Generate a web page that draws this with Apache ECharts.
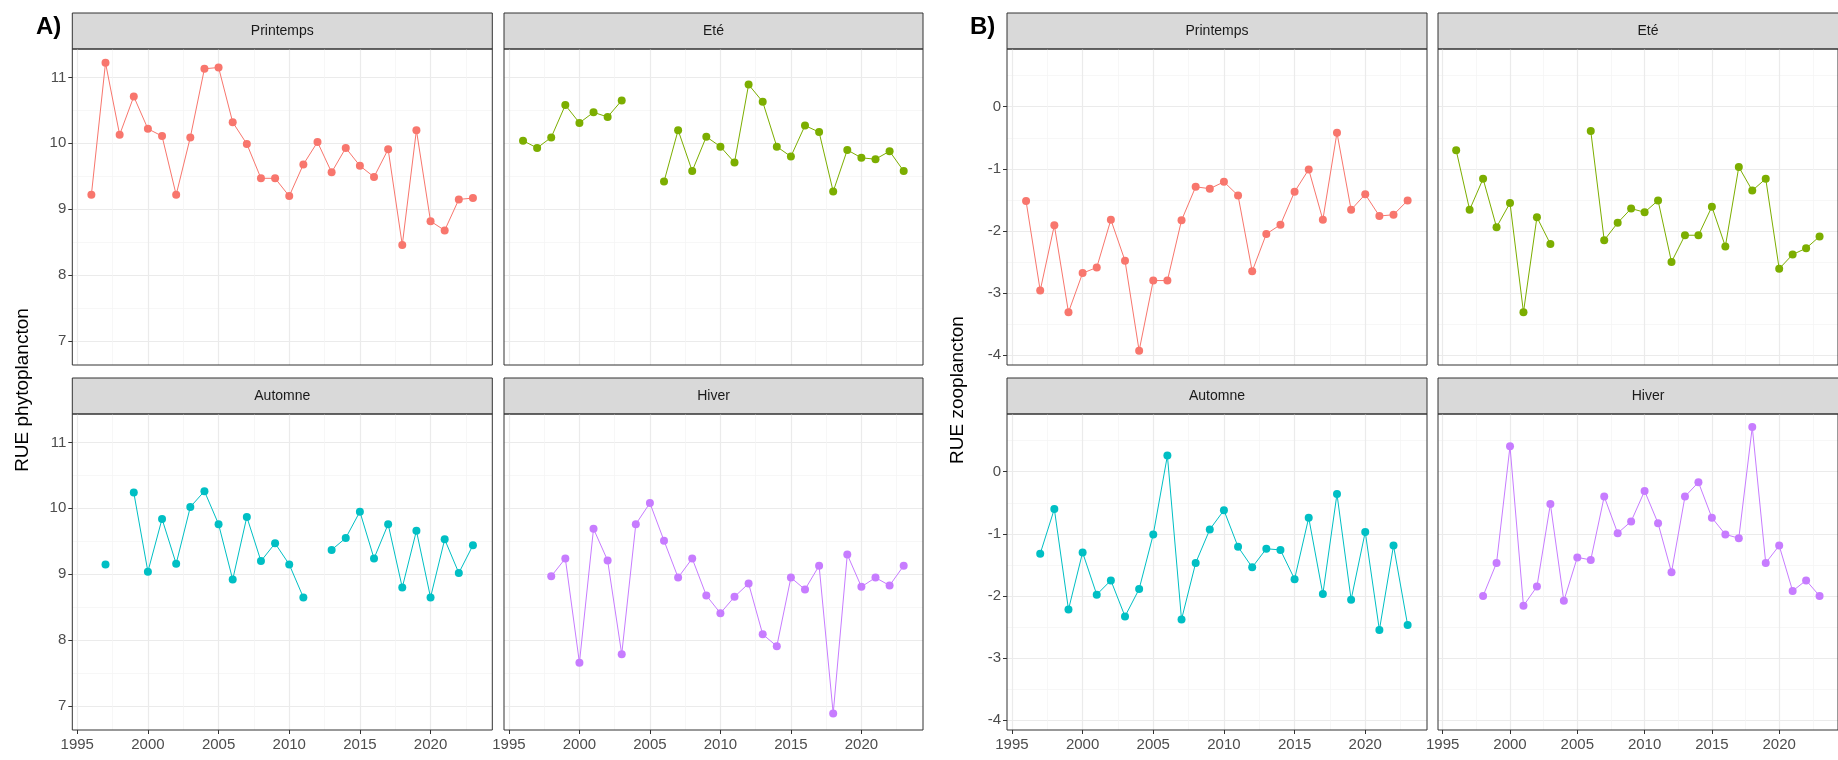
<!DOCTYPE html>
<html><head><meta charset="utf-8">
<script src="https://cdn.jsdelivr.net/npm/echarts@6/dist/echarts.min.js"></script>
<style>html,body{margin:0;padding:0;background:#fff}#c{width:1838px;height:760px}</style>
</head><body><div id="c"></div>
<script>
const years = [1996,1997,1998,1999,2000,2001,2002,2003,2004,2005,2006,2007,2008,2009,2010,2011,2012,2013,2014,2015,2016,2017,2018,2019,2020,2021,2022,2023];
const seasons = ['Printemps','Eté','Automne','Hiver'];
const xTicks = [1995,2000,2005,2010,2015,2020];
const xMinor = [1997.5,2002.5,2007.5,2012.5,2017.5,2022.5];
const phytoTicks = [7,8,9,10,11];
const phytoMinor = [7.5,8.5,9.5,10.5];
const zooTicks = [-4,-3,-2,-1,0];
const zooMinor = [-3.5,-2.5,-1.5,-0.5,0.5];

const phytoPrintemps = [9.22,11.22,10.13,10.71,10.22,10.11,9.22,10.09,11.13,11.15,10.32,9.99,9.47,9.47,9.20,9.68,10.02,9.56,9.93,9.66,9.49,9.91,8.46,10.20,8.82,8.68,9.15,9.17];
const phytoEte = [10.04,9.93,10.09,10.58,10.31,10.47,10.40,10.65,null,null,9.42,10.20,9.58,10.10,9.95,9.71,10.89,10.63,9.95,9.80,10.27,10.17,9.27,9.90,9.78,9.76,9.88,9.58];
const phytoAutomne = [null,9.15,null,10.24,9.04,9.84,9.16,10.02,10.26,9.76,8.92,9.87,9.20,9.47,9.15,8.65,null,9.37,9.55,9.95,9.24,9.76,8.80,9.66,8.65,9.53,9.02,9.44];
const phytoHiver = [null,null,8.97,9.24,7.66,9.69,9.21,7.79,9.76,10.08,9.51,8.95,9.24,8.68,8.41,8.66,8.86,8.09,7.91,8.95,8.77,9.13,6.89,9.30,8.81,8.95,8.83,9.13];
const zooPrintemps = [-1.52,-2.96,-1.91,-3.31,-2.68,-2.59,-1.82,-2.48,-3.93,-2.80,-2.80,-1.83,-1.29,-1.32,-1.21,-1.43,-2.65,-2.05,-1.90,-1.37,-1.01,-1.82,-0.42,-1.66,-1.41,-1.76,-1.74,-1.51];
const zooEte = [-0.70,-1.66,-1.16,-1.94,-1.55,-3.31,-1.78,-2.21,null,null,-0.39,-2.15,-1.87,-1.64,-1.70,-1.51,-2.50,-2.07,-2.07,-1.61,-2.25,-0.97,-1.35,-1.16,-2.61,-2.38,-2.28,-2.09];
const zooAutomne = [null,-1.32,-0.60,-2.22,-1.30,-1.98,-1.75,-2.33,-1.89,-1.01,0.26,-2.38,-1.47,-0.93,-0.62,-1.21,-1.54,-1.24,-1.26,-1.73,-0.74,-1.97,-0.36,-2.06,-0.97,-2.55,-1.19,-2.47];
const zooHiver = [null,null,-2.00,-1.47,0.41,-2.16,-1.85,-0.52,-2.08,-1.38,-1.42,-0.40,-0.99,-0.80,-0.31,-0.83,-1.62,-0.40,-0.17,-0.74,-1.01,-1.07,0.72,-1.47,-1.19,-1.92,-1.75,-2.00];

const colors = ['#F8766D','#7CAE00','#00BFC4','#C77CFF'];
const FONT = 'Liberation Sans, Arial, sans-serif';
const facets = [
  {left:72.3, top:49, w:420, s:0, d:phytoPrintemps, p:0, xl:false, yl:true},
  {left:504, top:49, w:419, s:1, d:phytoEte, p:0, xl:false, yl:false},
  {left:72.3, top:414, w:420, s:2, d:phytoAutomne, p:0, xl:true, yl:true},
  {left:504, top:414, w:419, s:3, d:phytoHiver, p:0, xl:true, yl:false},
  {left:1007, top:49, w:420, s:0, d:zooPrintemps, p:1, xl:false, yl:true},
  {left:1438, top:49, w:420, s:1, d:zooEte, p:1, xl:false, yl:false},
  {left:1007, top:414, w:420, s:2, d:zooAutomne, p:1, xl:true, yl:true},
  {left:1438, top:414, w:420, s:3, d:zooHiver, p:1, xl:true, yl:false}
];
const H = 316;
const yRange = [{min:6.64,max:11.43,t:phytoTicks,m:phytoMinor},{min:-4.16,max:0.93,t:zooTicks,m:zooMinor}];
const fmt = v => String(v);
const grid=[], xAxis=[], yAxis=[], series=[], graphic=[];
facets.forEach((f,i)=>{
  grid.push({left:f.left, top:f.top, width:f.w, height:H, show:true, borderColor:'#333', borderWidth:1, backgroundColor:'transparent', z:3});
  const yr = yRange[f.p];
  xAxis.push({type:'value', gridIndex:i, position:'bottom', min:1994.65, max:2024.37, axisLine:{show:false, onZero:false}, axisLabel:{show:false},
    axisTick:{show:false, customValues:xMinor}, splitLine:{show:true, lineStyle:{color:'#F3F3F3', width:0.7}}});
  xAxis.push({type:'value', gridIndex:i, position:'bottom', min:1994.65, max:2024.37, axisLine:{show:false, onZero:false},
    axisLabel:{show:f.xl, customValues:xTicks, formatter:fmt, color:'#4D4D4D', fontSize:15, fontFamily:FONT, margin:7},
    axisTick:{show:f.xl, customValues:xTicks, length:4, lineStyle:{color:'#333'}},
    splitLine:{show:true, lineStyle:{color:'#EBEBEB', width:1.2}}});
  yAxis.push({type:'value', gridIndex:i, position:'left', min:yr.min, max:yr.max, axisLine:{show:false, onZero:false}, axisLabel:{show:false},
    axisTick:{show:false, customValues:yr.m}, splitLine:{show:true, lineStyle:{color:'#F3F3F3', width:0.7}}});
  yAxis.push({type:'value', gridIndex:i, position:'left', min:yr.min, max:yr.max, axisLine:{show:false, onZero:false},
    axisLabel:{show:f.yl, customValues:yr.t, formatter:fmt, color:'#4D4D4D', fontSize:15, fontFamily:FONT, margin:6},
    axisTick:{show:f.yl, customValues:yr.t, length:4, lineStyle:{color:'#333'}},
    splitLine:{show:true, lineStyle:{color:'#EBEBEB', width:1.2}}});
  series.push({type:'line', xAxisIndex:2*i+1, yAxisIndex:2*i+1, data:years.map((y,k)=>[y,f.d[k]]),
    connectNulls:false, symbol:'circle', symbolSize:8, showSymbol:true, color:colors[f.s],
    lineStyle:{width:1, color:colors[f.s]}, itemStyle:{color:colors[f.s]}, animation:false, z:5});
  graphic.push({type:'rect', shape:{x:f.left, y:f.top-36, width:f.w, height:36}, style:{fill:'#D9D9D9', stroke:'#333', lineWidth:1}});
  graphic.push({type:'text', x:f.left+f.w/2, y:f.top-18, style:{text:seasons[f.s], fill:'#1A1A1A', font:'14px '+FONT, textAlign:'center', textVerticalAlign:'middle'}});
});
graphic.push({type:'text', x:36, y:27, style:{text:'A)', fill:'#000', font:'bold 24px '+FONT, textVerticalAlign:'middle'}});
graphic.push({type:'text', x:970, y:27, style:{text:'B)', fill:'#000', font:'bold 24px '+FONT, textVerticalAlign:'middle'}});
graphic.push({type:'text', x:23, y:390, rotation:Math.PI/2, style:{text:'RUE phytoplancton', fill:'#000', font:'19px '+FONT, textAlign:'center', textVerticalAlign:'middle'}});
graphic.push({type:'text', x:958, y:390, rotation:Math.PI/2, style:{text:'RUE zooplancton', fill:'#000', font:'19px '+FONT, textAlign:'center', textVerticalAlign:'middle'}});
const chart = echarts.init(document.getElementById('c'));
chart.setOption({animation:false, backgroundColor:'#fff', grid, xAxis, yAxis, series, graphic});
</script></body></html>
